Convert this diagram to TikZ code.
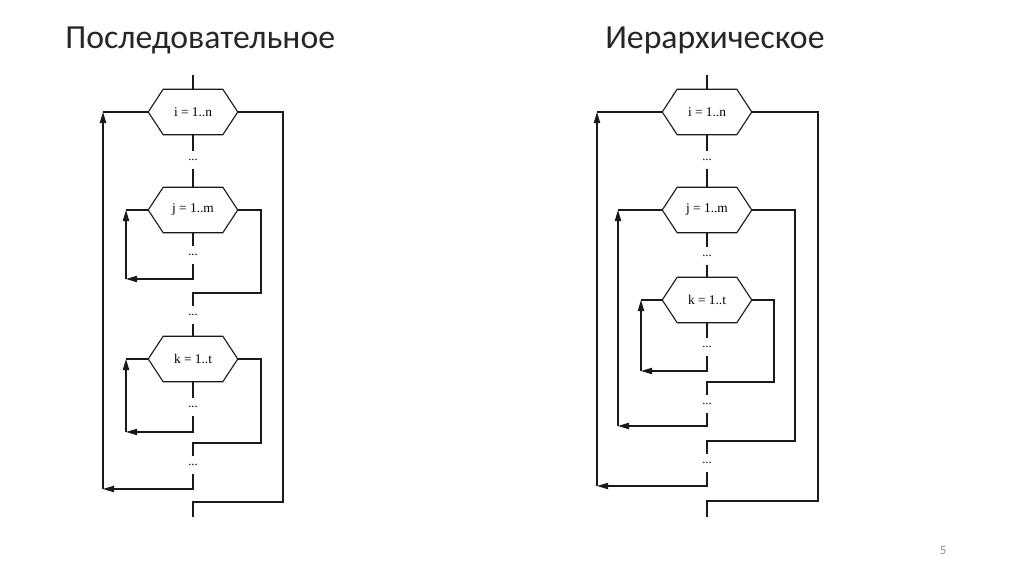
\documentclass[tikz,border=0pt]{standalone}
\usepackage{fontspec}
\setmainfont{Liberation Serif}
\newfontfamily\titlefont{Carlito}
\usetikzlibrary{arrows.meta}
\definecolor{ink}{HTML}{1A1A1A}
\definecolor{head}{HTML}{262626}
\definecolor{pgno}{HTML}{8C8C8C}
\tikzset{
  hexbox/.style ={minimum width=2.225cm, minimum height=1.125cm,
                  inner sep=0pt, font=\fontsize{9.5}{11}\selectfont},
  dotsbox/.style={minimum height=0.42cm, inner sep=0pt,
                  font=\fontsize{9}{10}\selectfont},
  ln/.style     ={draw=ink, line width=0.8pt},
  ar/.style     ={-{Triangle[length=2.8mm,width=1.6mm]}, draw=ink,
                  line width=0.8pt},
  title/.style  ={font=\titlefont\fontsize{24}{28}\selectfont, text=head,
                  anchor=base west, inner sep=0pt}
}
\begin{document}
\begin{tikzpicture}
\useasboundingbox (0,0) rectangle (25.6,14.35);
\node[title] (tl) at (1.625,13.125) {Последовательное};
\node[title] (tr) at (15.125,13.125) {Иерархическое};
\node[font=\titlefont\fontsize{9}{10}\selectfont, text=pgno] (pg) at (23.575,0.6) {5};

% sequential loops
\coordinate (lin) at (4.825,12.475);
\node[hexbox] (li) at (4.825,11.55) {i = 1..n};
\node[dotsbox] (ld1) at (4.825,10.35) {...};
\node[hexbox] (lj) at (4.825,9.1) {j = 1..m};
\node[dotsbox] (ld2) at (4.825,7.975) {...};
\node[dotsbox] (ld3) at (4.825,6.475) {...};
\node[hexbox] (lk) at (4.825,5.375) {k = 1..t};
\node[dotsbox] (ld4) at (4.825,4.175) {...};
\node[dotsbox] (ld5) at (4.825,2.725) {...};
\coordinate (lout) at (4.825,1.425);
\coordinate (ljb) at (3.15,7.375);  \coordinate (ljt) at (3.15,9.1);
\coordinate (ljr) at (6.525,7.025);
\coordinate (lkb) at (3.15,3.55);   \coordinate (lkt) at (3.15,5.375);
\coordinate (lkr) at (6.525,3.275);
\coordinate (lib) at (2.575,2.125); \coordinate (lit) at (2.575,11.55);
\coordinate (lir) at (7.075,1.8);

\draw[ln] (lin) -- (li);
\draw[ln] (li) -- (ld1);
\draw[ln] (ld1) -- (lj);
\draw[ln] (lj) -- (ld2);
\draw[ar] (ld2) |- (ljb);
\draw[ar] (ljb) -- (ljt);
\draw[ln] (ljt) -- (lj);
\draw[ln] (lj) -| (ljr) -| (ld3);
\draw[ln] (ld3) -- (lk);
\draw[ln] (lk) -- (ld4);
\draw[ar] (ld4) |- (lkb);
\draw[ar] (lkb) -- (lkt);
\draw[ln] (lkt) -- (lk);
\draw[ln] (lk) -| (lkr) -| (ld5);
\draw[ar] (ld5) |- (lib);
\draw[ar] (lib) -- (lit);
\draw[ln] (lit) -- (li);
\draw[ln] (li) -| (lir) -| (lout);

% nested loops
\coordinate (rin) at (17.675,12.475);
\node[hexbox] (ri) at (17.675,11.55) {i = 1..n};
\node[dotsbox] (rd1) at (17.675,10.35) {...};
\node[hexbox] (rj) at (17.675,9.1) {j = 1..m};
\node[dotsbox] (rd2) at (17.675,7.95) {...};
\node[hexbox] (rk) at (17.675,6.85) {k = 1..t};
\node[dotsbox] (rd3) at (17.675,5.675) {...};
\node[dotsbox] (rd4) at (17.675,4.25) {...};
\node[dotsbox] (rd5) at (17.675,2.775) {...};
\coordinate (rout) at (17.675,1.425);
\coordinate (rkb) at (16.025,5.075); \coordinate (rkt) at (16.025,6.85);
\coordinate (rkr) at (19.35,4.8);
\coordinate (rjb) at (15.45,3.7);    \coordinate (rjt) at (15.45,9.1);
\coordinate (rjr) at (19.875,3.325);
\coordinate (rib) at (14.925,2.2);   \coordinate (rit) at (14.925,11.55);
\coordinate (rir) at (20.45,1.825);

\draw[ln] (rin) -- (ri);
\draw[ln] (ri) -- (rd1);
\draw[ln] (rd1) -- (rj);
\draw[ln] (rj) -- (rd2);
\draw[ln] (rd2) -- (rk);
\draw[ln] (rk) -- (rd3);
\draw[ar] (rd3) |- (rkb);
\draw[ar] (rkb) -- (rkt);
\draw[ln] (rkt) -- (rk);
\draw[ln] (rk) -| (rkr) -| (rd4);
\draw[ar] (rd4) |- (rjb);
\draw[ar] (rjb) -- (rjt);
\draw[ln] (rjt) -- (rj);
\draw[ln] (rj) -| (rjr) -| (rd5);
\draw[ar] (rd5) |- (rib);
\draw[ar] (rib) -- (rit);
\draw[ln] (rit) -- (ri);
\draw[ln] (ri) -| (rir) -| (rout);

% hexagon outlines
\foreach \h in {li,lj,lk,ri,rj,rk}
  \draw[ln] ([xshift=0.375cm]\h.north west) -- ([xshift=-0.375cm]\h.north east)
    -- (\h.east) -- ([xshift=-0.375cm]\h.south east)
    -- ([xshift=0.375cm]\h.south west) -- (\h.west) -- cycle;
\end{tikzpicture}
\end{document}
